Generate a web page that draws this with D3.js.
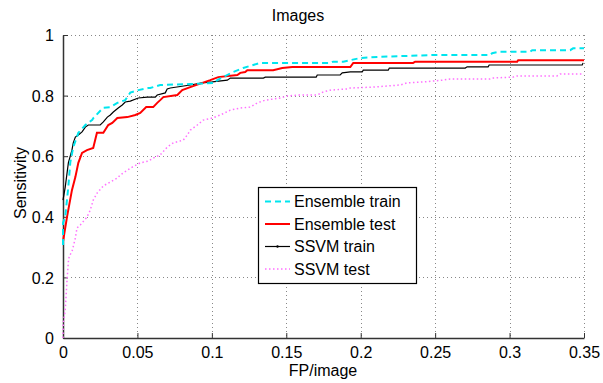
<!DOCTYPE html>
<html><head><meta charset="utf-8">
<script src="https://cdn.jsdelivr.net/npm/d3@7"></script>
<style>body{margin:0;background:#fff}svg{display:block}text{font-family:"Liberation Sans",Arial,sans-serif;fill:#000}</style>
</head><body><svg id="c" width="603" height="383"></svg>
<script>
const xTicks=[0,0.05,0.1,0.15,0.2,0.25,0.3,0.35];
const yTicks=[0,0.2,0.4,0.6,0.8,1];
const seriesNames=["Ensemble train","Ensemble test","SSVM train","SSVM test"];
const ensembleTrain=[[0,0.307],[0,0.38],[0.0015,0.40],[0.0036,0.50],[0.0049,0.58],[0.0069,0.63],[0.0103,0.677],[0.015,0.703],[0.0197,0.72],[0.0204,0.726],[0.027,0.76],[0.0318,0.762],[0.0365,0.776],[0.0418,0.785],[0.0452,0.81],[0.0506,0.818],[0.0573,0.825],[0.0586,0.825],[0.0653,0.835],[0.0855,0.838],[0.1023,0.842],[0.1036,0.851],[0.1144,0.878],[0.1211,0.891],[0.1278,0.901],[0.1325,0.908],[0.1795,0.908],[0.1815,0.912],[0.1883,0.912],[0.193,0.917],[0.1997,0.924],[0.2131,0.928],[0.2487,0.934],[0.287,0.934],[0.2883,0.94],[0.2937,0.945],[0.3138,0.945],[0.3152,0.95],[0.3407,0.95],[0.3427,0.956],[0.35,0.956]];
const ensembleTest=[[0,0.318],[0.0027,0.40],[0.006,0.488],[0.0083,0.531],[0.0103,0.578],[0.0128,0.611],[0.0161,0.62],[0.0203,0.627],[0.0228,0.677],[0.0271,0.677],[0.0304,0.703],[0.0331,0.71],[0.0365,0.726],[0.0432,0.729],[0.0486,0.736],[0.0519,0.743],[0.0559,0.762],[0.0606,0.762],[0.0633,0.776],[0.0653,0.785],[0.0674,0.795],[0.0768,0.802],[0.0801,0.818],[0.0855,0.828],[0.0936,0.842],[0.0989,0.851],[0.1043,0.861],[0.1171,0.868],[0.1191,0.875],[0.1224,0.878],[0.1238,0.884],[0.1412,0.884],[0.1473,0.891],[0.154,0.894],[0.193,0.894],[0.195,0.908],[0.2352,0.908],[0.2366,0.912],[0.3051,0.912],[0.3058,0.917],[0.35,0.917]];
const ssvmTrain=[[0,0.455],[0.0015,0.498],[0.0036,0.578],[0.006,0.62],[0.0069,0.644],[0.0083,0.663],[0.0103,0.67],[0.0128,0.68],[0.015,0.696],[0.017,0.703],[0.025,0.703],[0.0271,0.713],[0.0298,0.729],[0.0318,0.736],[0.0338,0.746],[0.0371,0.759],[0.0398,0.769],[0.0418,0.779],[0.0452,0.782],[0.0506,0.792],[0.0566,0.795],[0.062,0.795],[0.0633,0.802],[0.0687,0.809],[0.07,0.822],[0.0721,0.825],[0.0855,0.835],[0.0936,0.842],[0.1003,0.845],[0.1104,0.851],[0.1124,0.858],[0.1346,0.858],[0.1359,0.861],[0.1701,0.861],[0.1708,0.868],[0.1862,0.868],[0.1876,0.875],[0.193,0.878],[0.201,0.878],[0.2017,0.884],[0.2185,0.884],[0.2192,0.891],[0.2702,0.891],[0.2715,0.895],[0.2856,0.895],[0.2863,0.901],[0.3488,0.901],[0.3494,0.908]];
const ssvmTest=[[0,0],[0.0002,0.05],[0.0015,0.092],[0.0022,0.149],[0.0027,0.191],[0.0036,0.251],[0.0042,0.271],[0.006,0.284],[0.0083,0.33],[0.0094,0.363],[0.0116,0.373],[0.0161,0.399],[0.0183,0.422],[0.0203,0.455],[0.023,0.479],[0.0271,0.502],[0.0318,0.515],[0.0365,0.528],[0.0385,0.538],[0.0432,0.554],[0.0465,0.564],[0.0519,0.578],[0.0573,0.584],[0.0606,0.594],[0.0653,0.604],[0.07,0.63],[0.0741,0.644],[0.0808,0.653],[0.0835,0.67],[0.0855,0.686],[0.0902,0.703],[0.0942,0.719],[0.1003,0.726],[0.1057,0.736],[0.1124,0.752],[0.1191,0.759],[0.1258,0.762],[0.1305,0.776],[0.1359,0.785],[0.146,0.792],[0.1507,0.799],[0.1594,0.802],[0.1708,0.802],[0.1748,0.812],[0.1795,0.818],[0.191,0.822],[0.193,0.825],[0.2084,0.828],[0.2265,0.835],[0.2312,0.842],[0.242,0.845],[0.2554,0.851],[0.2601,0.855],[0.287,0.855],[0.289,0.858],[0.3024,0.861],[0.3051,0.865],[0.3319,0.865],[0.3339,0.871],[0.35,0.871]];

const L=63,R=584,T=35,B=338;
const svg=d3.select("#c");
const x=d3.scaleLinear().domain([0,0.35]).range([L,R]);
const y=d3.scaleLinear().domain([0,1]).range([B,T]);
const fmt=d=>d===0?"0":d===1?"1":String(d);

// grid
const g=svg.append("g");
g.selectAll(".gx").data(xTicks.slice(1)).enter().append("line")
 .attr("x1",d=>Math.round(x(d))+0.5).attr("x2",d=>Math.round(x(d))+0.5).attr("y1",T).attr("y2",B)
 .attr("stroke","#888").attr("stroke-width",1).attr("stroke-dasharray","1,3");
g.selectAll(".gy").data(yTicks.slice(1)).enter().append("line")
 .attr("y1",d=>Math.round(y(d))+0.5).attr("y2",d=>Math.round(y(d))+0.5).attr("x1",L).attr("x2",R)
 .attr("stroke","#888").attr("stroke-width",1).attr("stroke-dasharray","1,3");

// axes
const xa=d3.axisBottom(x).tickValues(xTicks).tickFormat(fmt).tickSizeInner(-5).tickSizeOuter(0).tickPadding(9);
const ya=d3.axisLeft(y).tickValues(yTicks).tickFormat(fmt).tickSizeInner(-5).tickSizeOuter(0).tickPadding(9);
const gx=svg.append("g").attr("transform",`translate(0,${B})`).call(xa);
const gy=svg.append("g").attr("transform",`translate(${L},0)`).call(ya);
[gx,gy].forEach(a=>{a.select(".domain").attr("stroke","#333").attr("stroke-width",1.5);
 a.selectAll(".tick line").attr("stroke","#333");
 a.selectAll("text").attr("font-size",16).attr("font-family","Liberation Sans, Arial, sans-serif").attr("fill","#000");});
gx.selectAll("text").attr("dy","0.7em");
gy.selectAll("text").attr("dy","0.35em");

// lines
const line=d3.line().x(d=>x(d[0])).y(d=>y(d[1]));
const styles=[
 {data:ensembleTrain,color:"#00e5ee",w:2,dash:"6,4"},
 {data:ensembleTest,color:"#ff0000",w:2,dash:null},
 {data:ssvmTrain,color:"#000",w:1.2,dash:null},
 {data:ssvmTest,color:"#ff70ff",w:1.5,dash:"1.5,2.5"}];
const plotOrder=[3,2,1,0];
plotOrder.forEach(i=>{const s=styles[i];
 svg.append("path").datum(s.data).attr("d",line).attr("fill","none")
  .attr("stroke",s.color).attr("stroke-width",s.w).attr("stroke-dasharray",s.dash);});

// title & labels
svg.append("text").attr("x",298).attr("y",21).attr("text-anchor","middle").attr("font-size",16).text("Images");
svg.append("text").attr("x",323).attr("y",376).attr("text-anchor","middle").attr("font-size",16).text("FP/image");
svg.append("text").attr("transform","translate(26,183) rotate(-90)").attr("text-anchor","middle").attr("font-size",16).text("Sensitivity");

// legend
const lg=svg.append("g");
lg.append("rect").attr("x",258.5).attr("y",187.5).attr("width",158).attr("height",96).attr("fill","#fff").attr("stroke","#000").attr("stroke-width",1.2);
seriesNames.forEach((n,i)=>{const yy=201.5+i*22.5;const s=styles[i];
 lg.append("line").attr("x1",265).attr("x2",290).attr("y1",yy).attr("y2",yy).attr("stroke",s.color).attr("stroke-width",s.w).attr("stroke-dasharray",s.dash);
 if(i===2) lg.append("circle").attr("cx",277.5).attr("cy",yy).attr("r",1.2).attr("fill","#000");
 lg.append("text").attr("x",294).attr("y",yy).attr("dy","0.35em").attr("font-size",16).text(n);});
</script></body></html>
